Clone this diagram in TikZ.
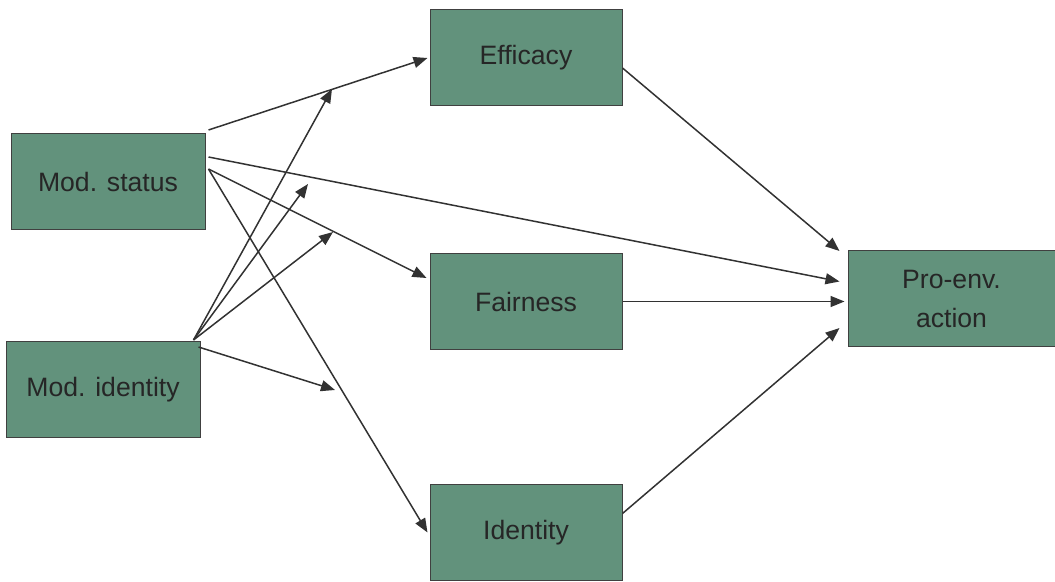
\documentclass[tikz,border=0pt]{standalone}
\usepackage{fontspec}
\setmainfont{Liberation Sans}
\usetikzlibrary{arrows.meta}
\definecolor{boxgreen}{RGB}{98,146,124}
\definecolor{linegray}{RGB}{50,50,50}

\begin{document}
\begin{tikzpicture}[x=0.5pt,y=-0.5pt,
  box/.style={draw=black!75,line width=0.5pt,fill=boxgreen,minimum width=96pt,minimum height=48pt,
    inner sep=0pt,align=center,font=\fontsize{13.3}{19.5}\selectfont,text=black!85},
  link/.style={draw=linegray,line width=0.75pt,-{Triangle[length=7pt,width=5.5pt]}}]
 \useasboundingbox (0,0) rectangle (1055,582);

 % boxes
 \node[box] (eff) at (526,58) {Efficacy};
 \node[box,minimum width=97pt] (stat) at (108,181.5) {Mod. status};
 \node[box] (fair) at (526,301.5) {Fairness};
 \node[box,minimum width=103.5pt] (pro) at (951.5,298.5) {Pro-env.\\action};
 \node[box,minimum width=97pt] (mid) at (103,389.5) {Mod. identity};
 \node[box] (ident) at (526,532.5) {Identity};

 % tips of the moderator arrows
 \coordinate (t1) at (332,89);
 \coordinate (t2) at (308,184);
 \coordinate (t3) at (333,232);
 \coordinate (t4) at (335,390);

 % paths from Mod. status
 \draw[link] ([shift={(3,-3)}]stat.north east) -- ([shift={(-2,0)}]eff.west);
 \draw[link] ([shift={(3,24)}]stat.north east) -- ([shift={(-8,-17)}]pro.west);
 \draw[link] ([shift={(3,36)}]stat.north east) -- ([shift={(-3,25)}]fair.north west);
 \draw[link] ([shift={(3,36)}]stat.north east) -- ([shift={(-2,0)}]ident.west);

 % moderation by Mod. identity
 \draw[link] ([shift={(-7,-1)}]mid.north east) -- (t1);
 \draw[link] ([shift={(-7,-1)}]mid.north east) -- (t2);
 \draw[link] ([shift={(-7,-1)}]mid.north east) -- (t3);
 \draw[link] ([shift={(-2,6)}]mid.north east) -- (t4);

 % mediators to action
 \draw[link] ([shift={(0,10)}]eff.east) -- ([shift={(-8,1)}]pro.north west);
 \draw[link] (fair.east) -- ([shift={(-3,0)}]fair.east -| pro.west);
 \draw[link] ([shift={(0,-19)}]ident.east) -- ([shift={(-8,-19)}]pro.south west);
\end{tikzpicture}
\end{document}
